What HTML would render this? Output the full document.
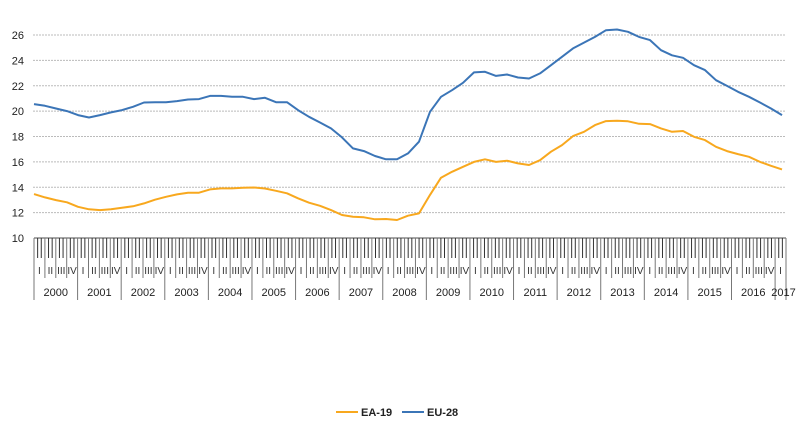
<!DOCTYPE html>
<html><head><meta charset="utf-8"><style>
body{margin:0;background:#fff;width:800px;height:424px;overflow:hidden;font-family:"Liberation Sans",Arial,sans-serif}
svg text{font-family:"Liberation Sans",Arial,sans-serif}
</style></head><body>
<svg id="chart" width="800" height="424" xmlns="http://www.w3.org/2000/svg">
<g id="grid"></g>
<g id="yaxis"></g>
<g id="xaxis"></g>
<g id="series"></g>
<g>
<g><line x1="336" y1="412" x2="358" y2="412" stroke="#F8A81E" stroke-width="2"/><text x="361" y="416" font-size="11" font-weight="bold" fill="#222">EA-19</text></g>
<g><line x1="402" y1="412" x2="424" y2="412" stroke="#3B75B7" stroke-width="2"/><text x="427" y="416" font-size="11" font-weight="bold" fill="#222">EU-28</text></g>
</g>
</svg>
<script>
const years = ["2000","2001","2002","2003","2004","2005","2006","2007","2008","2009","2010","2011","2012","2013","2014","2015","2016","2017"];
const quarterLabels = ["I","II","III","IV"];
const yTicks = [10,12,14,16,18,20,22,24,26];
const eu28 = [20.55,20.42,20.21,20.0,19.69,19.5,19.69,19.9,20.08,20.34,20.68,20.7,20.7,20.79,20.92,20.95,21.2,21.2,21.13,21.13,20.95,21.05,20.7,20.7,20.08,19.55,19.1,18.64,17.93,17.06,16.85,16.46,16.2,16.2,16.67,17.59,19.95,21.13,21.65,22.23,23.05,23.1,22.78,22.89,22.65,22.57,22.97,23.62,24.28,24.94,25.4,25.85,26.38,26.43,26.25,25.85,25.6,24.8,24.4,24.2,23.62,23.23,22.44,21.99,21.52,21.13,20.68,20.21,19.69];
const ea19 = [13.46,13.2,12.99,12.81,12.46,12.26,12.2,12.26,12.39,12.5,12.73,13.02,13.25,13.44,13.57,13.57,13.83,13.91,13.91,13.96,13.98,13.9,13.72,13.52,13.13,12.78,12.54,12.2,11.81,11.68,11.63,11.47,11.5,11.42,11.76,11.94,13.4,14.75,15.22,15.61,16.0,16.2,16.0,16.09,15.88,15.75,16.13,16.8,17.32,18.03,18.37,18.9,19.21,19.24,19.2,19.0,18.98,18.64,18.37,18.43,17.98,17.72,17.19,16.85,16.61,16.4,16.0,15.69,15.41];

const NS="http://www.w3.org/2000/svg";
const X0=34,X1=786,Y0=238,YTOP=35,VMIN=10,VMAX=26;
const totalMonths=207;
function yS(v){return Y0-(v-VMIN)*(Y0-YTOP)/(VMAX-VMIN);}
function mX(m){return X0+m*(X1-X0)/totalMonths;}
function pX(i,n){return 34+i*(782-34)/(n-1);}
function mk(tag,attrs,parent){const e=document.createElementNS(NS,tag);for(const k in attrs)e.setAttribute(k,attrs[k]);parent.appendChild(e);return e;}
const grid=document.getElementById('grid'),ya=document.getElementById('yaxis'),xa=document.getElementById('xaxis'),ser=document.getElementById('series');
yTicks.forEach(v=>{
  if(v>VMIN){const l=mk('line',{x1:33,x2:X1,y1:yS(v),y2:yS(v),stroke:'#bbb','stroke-dasharray':'2,1','stroke-width':1},grid);
  
  }
  const t=mk('text',{x:24,y:yS(v)+4,'text-anchor':'end','font-size':11,fill:'#222'},ya);
  t.textContent=v;
  
  
});
mk('line',{x1:X0,x2:X1,y1:Y0,y2:Y0,stroke:'#888','stroke-width':1.5},xa);
for(let m=0;m<=totalMonths;m++){
  let y2=258;
  if(m%3===0)y2=278;
  if(m%12===0||m===totalMonths)y2=300;
  const l=mk('line',{x1:mX(m),x2:mX(m),y1:Y0,y2:y2,stroke:(m%3===0?'#777':'#333'),'stroke-width':1},xa);
  
  
}
for(let q=0;q<totalMonths/3;q++){
  const t=mk('text',{x:mX(q*3+1.5),y:274,'text-anchor':'middle','font-size':10,fill:'#333'},xa);
  t.textContent=quarterLabels[q%4];
  
  
}
years.forEach((yr,i)=>{
  const end=Math.min((i+1)*12,totalMonths);
  const t=mk('text',{x:(mX(i*12)+mX(end))/2+(i===17?3:0),y:296,'text-anchor':'middle','font-size':11,fill:'#222'},xa);
  t.textContent=yr;
  
  
});
function line(data,color,name){
  const d=data.map((v,i)=>(i?'L':'M')+pX(i,data.length).toFixed(1)+','+yS(v).toFixed(1)).join(' ');
  const p=mk('path',{d:d,fill:'none',stroke:color,'stroke-width':2,'stroke-linejoin':'round'},ser);
  
  
}
line(ea19,'#F8A81E','ea19-line');
line(eu28,'#3B75B7','eu28-line');
</script>
</body></html>
